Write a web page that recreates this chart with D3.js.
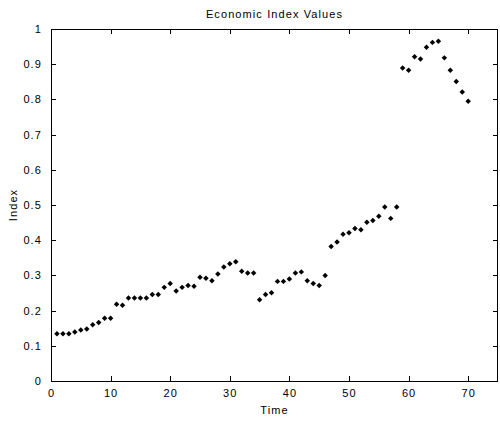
<!DOCTYPE html>
<html>
<head>
<meta charset="utf-8">
<script src="https://cdn.jsdelivr.net/npm/d3@7"></script>
<style>
  body { margin: 0; background: #fff; }
  text { font-family: "Liberation Sans", Arial, sans-serif; fill: #000; letter-spacing: 1.1px; }
  .axis path, .axis line { stroke: #000; shape-rendering: crispEdges; }
</style>
</head>
<body>
<script>
var times = d3.range(1, 71);
var indexValues = [
  0.134, 0.134, 0.134, 0.139, 0.145, 0.148, 0.160, 0.166, 0.178, 0.178,
  0.218, 0.215, 0.236, 0.236, 0.236, 0.236, 0.246, 0.246, 0.266, 0.277,
  0.256, 0.266, 0.271, 0.269, 0.295, 0.292, 0.285, 0.304, 0.324, 0.333,
  0.339, 0.312, 0.307, 0.307, 0.231, 0.246, 0.251, 0.283, 0.283, 0.290,
  0.307, 0.310, 0.285, 0.277, 0.271, 0.300, 0.382, 0.395, 0.417, 0.421,
  0.433, 0.430, 0.451, 0.456, 0.468, 0.494, 0.462, 0.494, 0.889, 0.883,
  0.921, 0.915, 0.948, 0.962, 0.965, 0.918, 0.883, 0.851, 0.821, 0.795
];
var xTicks = [0, 10, 20, 30, 40, 50, 60, 70];
var yTicks = [0, 0.1, 0.2, 0.3, 0.4, 0.5, 0.6, 0.7, 0.8, 0.9, 1];

var dataset = times.map(function(t, i) { return {time: t, value: indexValues[i]}; });

var margin = {top: 29, right: 2, bottom: 40, left: 51},
    W = 500, H = 421,
    w = W - margin.left - margin.right,
    h = H - margin.top - margin.bottom;

var xScale = d3.scaleLinear().domain([0, 75]).range([0, w]);
var yScale = d3.scaleLinear().domain([0, 1]).range([h, 0]);

var svg = d3.select("body").append("svg")
    .attr("width", W)
    .attr("height", H);

var g = svg.append("g")
    .attr("transform", "translate(" + margin.left + "," + margin.top + ")");

// box ticks (top and right, inward, no labels)
g.append("g").attr("class", "axis")
  .call(d3.axisTop(xScale).tickValues(xTicks).tickSize(-5).tickFormat(""))
  .call(function(s) { s.select(".domain").remove(); });
g.append("g").attr("class", "axis")
  .attr("transform", "translate(" + w + ",0)")
  .call(d3.axisRight(yScale).tickValues(yTicks).tickSize(-5).tickFormat(""))
  .call(function(s) { s.select(".domain").remove(); });

var xAxis = g.append("g").attr("class", "axis")
  .attr("transform", "translate(0," + h + ")")
  .call(d3.axisBottom(xScale).tickValues(xTicks).tickSize(-5).tickPadding(8).tickFormat(d3.format("d")));
xAxis.select(".domain").remove();
xAxis.selectAll("text").attr("font-size", 11).attr("dy", "0.71em");

var yAxis = g.append("g").attr("class", "axis")
  .call(d3.axisLeft(yScale).tickValues(yTicks).tickSize(-5).tickPadding(9).tickFormat(function(d) { return d3.format("")(+d.toFixed(1)); }));
yAxis.select(".domain").remove();
yAxis.selectAll("text").attr("font-size", 11);

// box
g.append("rect")
  .attr("x", 0.5).attr("y", 0.5)
  .attr("width", w - 1).attr("height", h)
  .attr("fill", "none")
  .attr("stroke", "#000")
  .attr("shape-rendering", "crispEdges");

// markers
g.selectAll(".pt")
  .data(dataset)
  .enter().append("path")
  .attr("class", "pt")
  .attr("d", d3.symbol().type(d3.symbolSquare).size(15))
  .attr("transform", function(d) {
    return "translate(" + xScale(d.time) + "," + yScale(d.value) + ") rotate(45)";
  })
  .attr("fill", "#000");

// title and labels
svg.append("text")
  .attr("x", margin.left + w / 2)
  .attr("y", 18)
  .attr("text-anchor", "middle")
  .attr("font-size", 11)
  .text("Economic Index Values");

svg.append("text")
  .attr("x", margin.left + w / 2)
  .attr("y", 414)
  .attr("text-anchor", "middle")
  .attr("font-size", 11)
  .text("Time");

svg.append("text")
  .attr("transform", "translate(17," + (margin.top + h / 2) + ") rotate(-90)")
  .attr("text-anchor", "middle")
  .attr("font-size", 11)
  .text("Index");
</script>
</body>
</html>
